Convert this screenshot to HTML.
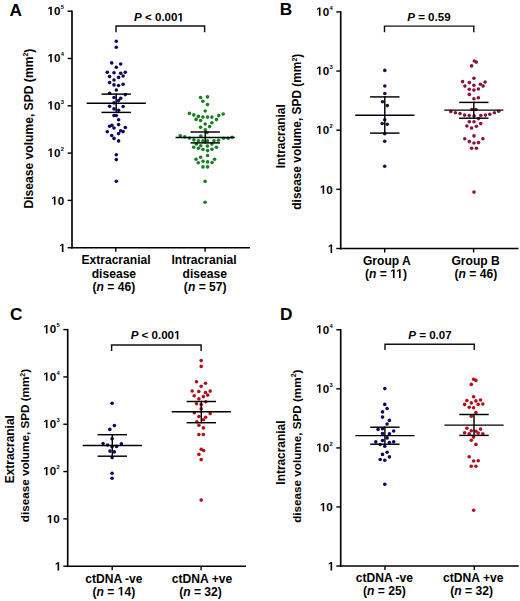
<!DOCTYPE html>
<html><head><meta charset="utf-8"><style>
html,body{margin:0;padding:0;background:#fff;}
svg{display:block;font-family:"Liberation Sans", sans-serif;}
.one{fill:transparent;}
</style></head><body>
<svg width="520" height="601" viewBox="0 0 520 601">
<rect width="520" height="601" fill="#fff"/>
<text x="9.50" y="15.60" font-size="17.3" text-anchor="start" font-weight="bold" >A</text>
<line x1="72.00" y1="10.50" x2="72.00" y2="248.60" stroke="#000" stroke-width="1.65"/>
<line x1="71.10" y1="247.70" x2="250.00" y2="247.70" stroke="#000" stroke-width="1.65"/>
<line x1="67.60" y1="247.70" x2="72.00" y2="247.70" stroke="#000" stroke-width="1.4"/>
<text x="65.60" y="252.10" font-size="11.6" text-anchor="end" font-weight="bold" ><tspan class="one">1</tspan></text>
<line x1="67.60" y1="200.40" x2="72.00" y2="200.40" stroke="#000" stroke-width="1.4"/>
<text x="64.10" y="204.80" font-size="11.6" text-anchor="end" font-weight="bold" ><tspan class="one">1</tspan>0</text>
<line x1="67.60" y1="153.10" x2="72.00" y2="153.10" stroke="#000" stroke-width="1.4"/>
<text x="60.40" y="156.90" font-size="11.6" text-anchor="end" font-weight="bold" ><tspan class="one">1</tspan>0</text>
<text x="60.80" y="150.90" font-size="5.8" text-anchor="start" font-weight="bold" >2</text>
<line x1="67.60" y1="105.80" x2="72.00" y2="105.80" stroke="#000" stroke-width="1.4"/>
<text x="60.40" y="109.60" font-size="11.6" text-anchor="end" font-weight="bold" ><tspan class="one">1</tspan>0</text>
<text x="60.80" y="103.60" font-size="5.8" text-anchor="start" font-weight="bold" >3</text>
<line x1="67.60" y1="58.50" x2="72.00" y2="58.50" stroke="#000" stroke-width="1.4"/>
<text x="60.40" y="62.30" font-size="11.6" text-anchor="end" font-weight="bold" ><tspan class="one">1</tspan>0</text>
<text x="60.80" y="56.30" font-size="5.8" text-anchor="start" font-weight="bold" >4</text>
<line x1="67.60" y1="11.20" x2="72.00" y2="11.20" stroke="#000" stroke-width="1.4"/>
<text x="60.40" y="15.00" font-size="11.6" text-anchor="end" font-weight="bold" ><tspan class="one">1</tspan>0</text>
<text x="60.80" y="9.00" font-size="5.8" text-anchor="start" font-weight="bold" >5</text>
<line x1="115.80" y1="247.70" x2="115.80" y2="251.70" stroke="#000" stroke-width="1.4"/>
<line x1="205.10" y1="247.70" x2="205.10" y2="251.70" stroke="#000" stroke-width="1.4"/>
<polyline points="116.00,32.30 116.00,26.00 204.60,26.00 204.60,32.30" fill="none" stroke="#111" stroke-width="1.45"/>
<text x="159.00" y="21.40" font-size="11.55" text-anchor="middle" font-weight="bold" ><tspan font-style="italic">P</tspan> &lt; 0.00<tspan class="one">1</tspan></text>
<text x="116.00" y="263.90" font-size="12.1" text-anchor="middle" font-weight="bold" >Extracranial</text>
<text x="113.90" y="278.00" font-size="12.1" text-anchor="middle" font-weight="bold" >disease</text>
<text x="113.90" y="291.30" font-size="12.1" text-anchor="middle" font-weight="bold" >(<tspan font-style="italic">n</tspan> = 46)</text>
<text x="204.00" y="263.90" font-size="12.1" text-anchor="middle" font-weight="bold" >Intracranial</text>
<text x="204.80" y="278.00" font-size="12.1" text-anchor="middle" font-weight="bold" >disease</text>
<text x="205.20" y="291.30" font-size="12.1" text-anchor="middle" font-weight="bold" >(<tspan font-style="italic">n</tspan> = 57)</text>
<text x="0.00" y="0.00" font-size="12.1" text-anchor="middle" font-weight="bold" transform="translate(32.80,128.60) rotate(-90)">Disease volume, SPD (mm<tspan font-size="7" dy="-4.6">2</tspan><tspan dy="4.6">)</tspan></text>
<text x="279.80" y="15.40" font-size="17.3" text-anchor="start" font-weight="bold" >B</text>
<line x1="340.70" y1="11.20" x2="340.70" y2="249.40" stroke="#000" stroke-width="1.65"/>
<line x1="339.80" y1="248.50" x2="518.50" y2="248.50" stroke="#000" stroke-width="1.65"/>
<line x1="336.30" y1="248.50" x2="340.70" y2="248.50" stroke="#000" stroke-width="1.4"/>
<text x="334.30" y="252.90" font-size="11.6" text-anchor="end" font-weight="bold" ><tspan class="one">1</tspan></text>
<line x1="336.30" y1="189.35" x2="340.70" y2="189.35" stroke="#000" stroke-width="1.4"/>
<text x="332.80" y="193.75" font-size="11.6" text-anchor="end" font-weight="bold" ><tspan class="one">1</tspan>0</text>
<line x1="336.30" y1="130.20" x2="340.70" y2="130.20" stroke="#000" stroke-width="1.4"/>
<text x="329.10" y="134.00" font-size="11.6" text-anchor="end" font-weight="bold" ><tspan class="one">1</tspan>0</text>
<text x="329.50" y="128.00" font-size="5.8" text-anchor="start" font-weight="bold" >2</text>
<line x1="336.30" y1="71.05" x2="340.70" y2="71.05" stroke="#000" stroke-width="1.4"/>
<text x="329.10" y="74.85" font-size="11.6" text-anchor="end" font-weight="bold" ><tspan class="one">1</tspan>0</text>
<text x="329.50" y="68.85" font-size="5.8" text-anchor="start" font-weight="bold" >3</text>
<line x1="336.30" y1="11.90" x2="340.70" y2="11.90" stroke="#000" stroke-width="1.4"/>
<text x="329.10" y="15.70" font-size="11.6" text-anchor="end" font-weight="bold" ><tspan class="one">1</tspan>0</text>
<text x="329.50" y="9.70" font-size="5.8" text-anchor="start" font-weight="bold" >4</text>
<line x1="384.70" y1="248.50" x2="384.70" y2="252.50" stroke="#000" stroke-width="1.4"/>
<line x1="473.60" y1="248.50" x2="473.60" y2="252.50" stroke="#000" stroke-width="1.4"/>
<polyline points="384.50,32.30 384.50,26.10 473.80,26.10 473.80,32.30" fill="none" stroke="#111" stroke-width="1.45"/>
<text x="428.90" y="20.50" font-size="11.55" text-anchor="middle" font-weight="bold" ><tspan font-style="italic">P</tspan> = 0.59</text>
<text x="386.90" y="265.00" font-size="12.1" text-anchor="middle" font-weight="bold" >Group A</text>
<text x="385.90" y="277.90" font-size="12.1" text-anchor="middle" font-weight="bold" >(<tspan font-style="italic">n</tspan> = <tspan class="one">1</tspan><tspan class="one">1</tspan>)</text>
<text x="475.60" y="265.00" font-size="12.1" text-anchor="middle" font-weight="bold" >Group B</text>
<text x="475.90" y="277.90" font-size="12.1" text-anchor="middle" font-weight="bold" >(<tspan font-style="italic">n</tspan> = 46)</text>
<text x="0.00" y="0.00" font-size="11.9" text-anchor="middle" font-weight="bold" transform="translate(284.50,136.30) rotate(-90)">Intracranial</text>
<text x="0.00" y="0.00" font-size="11.9" text-anchor="middle" font-weight="bold" transform="translate(301.30,131.70) rotate(-90)">disease volume, SPD (mm<tspan font-size="7" dy="-4.6">2</tspan><tspan dy="4.6">)</tspan></text>
<text x="9.90" y="320.10" font-size="17.3" text-anchor="start" font-weight="bold" >C</text>
<line x1="67.70" y1="328.90" x2="67.70" y2="567.10" stroke="#000" stroke-width="1.65"/>
<line x1="66.80" y1="566.20" x2="246.00" y2="566.20" stroke="#000" stroke-width="1.65"/>
<line x1="63.30" y1="566.20" x2="67.70" y2="566.20" stroke="#000" stroke-width="1.4"/>
<text x="61.30" y="570.60" font-size="11.6" text-anchor="end" font-weight="bold" ><tspan class="one">1</tspan></text>
<line x1="63.30" y1="518.88" x2="67.70" y2="518.88" stroke="#000" stroke-width="1.4"/>
<text x="59.80" y="523.28" font-size="11.6" text-anchor="end" font-weight="bold" ><tspan class="one">1</tspan>0</text>
<line x1="63.30" y1="471.56" x2="67.70" y2="471.56" stroke="#000" stroke-width="1.4"/>
<text x="56.10" y="475.36" font-size="11.6" text-anchor="end" font-weight="bold" ><tspan class="one">1</tspan>0</text>
<text x="56.50" y="469.36" font-size="5.8" text-anchor="start" font-weight="bold" >2</text>
<line x1="63.30" y1="424.24" x2="67.70" y2="424.24" stroke="#000" stroke-width="1.4"/>
<text x="56.10" y="428.04" font-size="11.6" text-anchor="end" font-weight="bold" ><tspan class="one">1</tspan>0</text>
<text x="56.50" y="422.04" font-size="5.8" text-anchor="start" font-weight="bold" >3</text>
<line x1="63.30" y1="376.92" x2="67.70" y2="376.92" stroke="#000" stroke-width="1.4"/>
<text x="56.10" y="380.72" font-size="11.6" text-anchor="end" font-weight="bold" ><tspan class="one">1</tspan>0</text>
<text x="56.50" y="374.72" font-size="5.8" text-anchor="start" font-weight="bold" >4</text>
<line x1="63.30" y1="329.60" x2="67.70" y2="329.60" stroke="#000" stroke-width="1.4"/>
<text x="56.10" y="333.40" font-size="11.6" text-anchor="end" font-weight="bold" ><tspan class="one">1</tspan>0</text>
<text x="56.50" y="327.40" font-size="5.8" text-anchor="start" font-weight="bold" >5</text>
<line x1="112.20" y1="566.20" x2="112.20" y2="570.20" stroke="#000" stroke-width="1.4"/>
<line x1="201.10" y1="566.20" x2="201.10" y2="570.20" stroke="#000" stroke-width="1.4"/>
<polyline points="111.60,351.00 111.60,345.00 201.10,345.00 201.10,351.00" fill="none" stroke="#111" stroke-width="1.45"/>
<text x="155.60" y="339.20" font-size="11.55" text-anchor="middle" font-weight="bold" ><tspan font-style="italic">P</tspan> &lt; 0.00<tspan class="one">1</tspan></text>
<text x="113.90" y="582.80" font-size="12.1" text-anchor="middle" font-weight="bold" >ctDNA -ve</text>
<text x="113.90" y="595.60" font-size="12.1" text-anchor="middle" font-weight="bold" >(<tspan font-style="italic">n</tspan> = <tspan class="one">1</tspan>4)</text>
<text x="202.00" y="582.80" font-size="12.1" text-anchor="middle" font-weight="bold" >ctDNA +ve</text>
<text x="200.50" y="595.60" font-size="12.1" text-anchor="middle" font-weight="bold" >(<tspan font-style="italic">n</tspan> = 32)</text>
<text x="0.00" y="0.00" font-size="11.9" text-anchor="middle" font-weight="bold" transform="translate(13.70,449.20) rotate(-90)">Extracranial</text>
<text x="0.00" y="0.00" font-size="11.7" text-anchor="middle" font-weight="bold" transform="translate(29.10,445.50) rotate(-90)">disease volume, SPD (mm<tspan font-size="7" dy="-4.6">2</tspan><tspan dy="4.6">)</tspan></text>
<text x="280.00" y="319.80" font-size="17.3" text-anchor="start" font-weight="bold" >D</text>
<line x1="340.70" y1="329.10" x2="340.70" y2="566.90" stroke="#000" stroke-width="1.65"/>
<line x1="339.80" y1="566.00" x2="518.80" y2="566.00" stroke="#000" stroke-width="1.65"/>
<line x1="336.30" y1="566.00" x2="340.70" y2="566.00" stroke="#000" stroke-width="1.4"/>
<text x="334.30" y="570.40" font-size="11.6" text-anchor="end" font-weight="bold" ><tspan class="one">1</tspan></text>
<line x1="336.30" y1="506.95" x2="340.70" y2="506.95" stroke="#000" stroke-width="1.4"/>
<text x="332.80" y="511.35" font-size="11.6" text-anchor="end" font-weight="bold" ><tspan class="one">1</tspan>0</text>
<line x1="336.30" y1="447.90" x2="340.70" y2="447.90" stroke="#000" stroke-width="1.4"/>
<text x="329.10" y="451.70" font-size="11.6" text-anchor="end" font-weight="bold" ><tspan class="one">1</tspan>0</text>
<text x="329.50" y="445.70" font-size="5.8" text-anchor="start" font-weight="bold" >2</text>
<line x1="336.30" y1="388.85" x2="340.70" y2="388.85" stroke="#000" stroke-width="1.4"/>
<text x="329.10" y="392.65" font-size="11.6" text-anchor="end" font-weight="bold" ><tspan class="one">1</tspan>0</text>
<text x="329.50" y="386.65" font-size="5.8" text-anchor="start" font-weight="bold" >3</text>
<line x1="336.30" y1="329.80" x2="340.70" y2="329.80" stroke="#000" stroke-width="1.4"/>
<text x="329.10" y="333.60" font-size="11.6" text-anchor="end" font-weight="bold" ><tspan class="one">1</tspan>0</text>
<text x="329.50" y="327.60" font-size="5.8" text-anchor="start" font-weight="bold" >4</text>
<line x1="385.00" y1="566.00" x2="385.00" y2="570.00" stroke="#000" stroke-width="1.4"/>
<line x1="474.30" y1="566.00" x2="474.30" y2="570.00" stroke="#000" stroke-width="1.4"/>
<polyline points="385.00,350.10 385.00,344.30 474.30,344.30 474.30,350.10" fill="none" stroke="#111" stroke-width="1.45"/>
<text x="430.00" y="339.20" font-size="11.55" text-anchor="middle" font-weight="bold" ><tspan font-style="italic">P</tspan> = 0.07</text>
<text x="384.40" y="582.30" font-size="12.1" text-anchor="middle" font-weight="bold" >ctDNA -ve</text>
<text x="384.40" y="595.30" font-size="12.1" text-anchor="middle" font-weight="bold" >(<tspan font-style="italic">n</tspan> = 25)</text>
<text x="473.30" y="582.20" font-size="12.1" text-anchor="middle" font-weight="bold" >ctDNA +ve</text>
<text x="471.60" y="595.30" font-size="12.1" text-anchor="middle" font-weight="bold" >(<tspan font-style="italic">n</tspan> = 32)</text>
<text x="0.00" y="0.00" font-size="11.9" text-anchor="middle" font-weight="bold" transform="translate(284.60,452.60) rotate(-90)">Intracranial</text>
<text x="0.00" y="0.00" font-size="11.7" text-anchor="middle" font-weight="bold" transform="translate(300.90,446.20) rotate(-90)">disease volume, SPD (mm<tspan font-size="7" dy="-4.6">2</tspan><tspan dy="4.6">)</tspan></text>
<circle cx="116.30" cy="41.30" r="1.8" fill="#0c0866"/>
<circle cx="116.30" cy="47.30" r="1.8" fill="#0c0866"/>
<circle cx="111.70" cy="62.90" r="1.8" fill="#0c0866"/>
<circle cx="120.70" cy="64.00" r="1.8" fill="#0c0866"/>
<circle cx="116.30" cy="67.30" r="1.8" fill="#0c0866"/>
<circle cx="107.30" cy="72.30" r="1.8" fill="#0c0866"/>
<circle cx="114.00" cy="72.80" r="1.8" fill="#0c0866"/>
<circle cx="120.70" cy="73.30" r="1.8" fill="#0c0866"/>
<circle cx="125.30" cy="72.30" r="1.8" fill="#0c0866"/>
<circle cx="109.60" cy="76.60" r="1.8" fill="#0c0866"/>
<circle cx="118.60" cy="77.40" r="1.8" fill="#0c0866"/>
<circle cx="123.10" cy="76.00" r="1.8" fill="#0c0866"/>
<circle cx="114.00" cy="80.00" r="1.8" fill="#0c0866"/>
<circle cx="109.60" cy="82.60" r="1.8" fill="#0c0866"/>
<circle cx="114.00" cy="84.90" r="1.8" fill="#0c0866"/>
<circle cx="118.60" cy="85.50" r="1.8" fill="#0c0866"/>
<circle cx="123.10" cy="84.30" r="1.8" fill="#0c0866"/>
<circle cx="116.30" cy="90.00" r="1.8" fill="#0c0866"/>
<circle cx="109.60" cy="93.30" r="1.8" fill="#0c0866"/>
<circle cx="125.30" cy="94.60" r="1.8" fill="#0c0866"/>
<circle cx="114.00" cy="97.50" r="1.8" fill="#0c0866"/>
<circle cx="120.70" cy="98.30" r="1.8" fill="#0c0866"/>
<circle cx="118.60" cy="100.60" r="1.8" fill="#0c0866"/>
<circle cx="114.00" cy="102.90" r="1.8" fill="#0c0866"/>
<circle cx="109.60" cy="106.20" r="1.8" fill="#0c0866"/>
<circle cx="123.10" cy="106.50" r="1.8" fill="#0c0866"/>
<circle cx="114.00" cy="108.90" r="1.8" fill="#0c0866"/>
<circle cx="118.60" cy="110.20" r="1.8" fill="#0c0866"/>
<circle cx="114.00" cy="115.50" r="1.8" fill="#0c0866"/>
<circle cx="116.30" cy="115.50" r="1.8" fill="#0c0866"/>
<circle cx="118.60" cy="119.80" r="1.8" fill="#0c0866"/>
<circle cx="118.60" cy="124.60" r="1.8" fill="#0c0866"/>
<circle cx="109.60" cy="126.20" r="1.8" fill="#0c0866"/>
<circle cx="111.90" cy="125.40" r="1.8" fill="#0c0866"/>
<circle cx="114.00" cy="128.00" r="1.8" fill="#0c0866"/>
<circle cx="125.30" cy="127.50" r="1.8" fill="#0c0866"/>
<circle cx="107.30" cy="131.80" r="1.8" fill="#0c0866"/>
<circle cx="120.70" cy="130.70" r="1.8" fill="#0c0866"/>
<circle cx="123.10" cy="131.60" r="1.8" fill="#0c0866"/>
<circle cx="118.60" cy="133.60" r="1.8" fill="#0c0866"/>
<circle cx="111.70" cy="135.50" r="1.8" fill="#0c0866"/>
<circle cx="114.00" cy="138.40" r="1.8" fill="#0c0866"/>
<circle cx="118.60" cy="140.90" r="1.8" fill="#0c0866"/>
<circle cx="116.30" cy="154.80" r="1.8" fill="#0c0866"/>
<circle cx="116.30" cy="159.60" r="1.8" fill="#0c0866"/>
<circle cx="116.30" cy="181.20" r="1.8" fill="#0c0866"/>
<circle cx="200.60" cy="97.50" r="1.8" fill="#17801f"/>
<circle cx="207.50" cy="96.90" r="1.8" fill="#17801f"/>
<circle cx="202.90" cy="101.20" r="1.8" fill="#17801f"/>
<circle cx="207.50" cy="104.60" r="1.8" fill="#17801f"/>
<circle cx="205.20" cy="111.00" r="1.8" fill="#17801f"/>
<circle cx="189.40" cy="113.40" r="1.8" fill="#17801f"/>
<circle cx="193.80" cy="114.90" r="1.8" fill="#17801f"/>
<circle cx="198.40" cy="116.40" r="1.8" fill="#17801f"/>
<circle cx="202.90" cy="117.10" r="1.8" fill="#17801f"/>
<circle cx="207.50" cy="117.10" r="1.8" fill="#17801f"/>
<circle cx="211.90" cy="117.10" r="1.8" fill="#17801f"/>
<circle cx="218.80" cy="115.60" r="1.8" fill="#17801f"/>
<circle cx="223.20" cy="114.00" r="1.8" fill="#17801f"/>
<circle cx="196.10" cy="119.40" r="1.8" fill="#17801f"/>
<circle cx="200.60" cy="120.50" r="1.8" fill="#17801f"/>
<circle cx="216.50" cy="119.60" r="1.8" fill="#17801f"/>
<circle cx="205.20" cy="124.00" r="1.8" fill="#17801f"/>
<circle cx="211.90" cy="122.80" r="1.8" fill="#17801f"/>
<circle cx="200.60" cy="127.30" r="1.8" fill="#17801f"/>
<circle cx="209.60" cy="126.60" r="1.8" fill="#17801f"/>
<circle cx="205.30" cy="129.70" r="1.8" fill="#17801f"/>
<circle cx="207.00" cy="132.60" r="1.8" fill="#17801f"/>
<circle cx="180.20" cy="135.80" r="1.8" fill="#17801f"/>
<circle cx="184.80" cy="136.90" r="1.8" fill="#17801f"/>
<circle cx="189.40" cy="138.10" r="1.8" fill="#17801f"/>
<circle cx="200.80" cy="136.00" r="1.8" fill="#17801f"/>
<circle cx="223.50" cy="138.30" r="1.8" fill="#17801f"/>
<circle cx="228.10" cy="138.30" r="1.8" fill="#17801f"/>
<circle cx="232.10" cy="137.20" r="1.8" fill="#17801f"/>
<circle cx="193.90" cy="139.90" r="1.8" fill="#17801f"/>
<circle cx="198.40" cy="140.70" r="1.8" fill="#17801f"/>
<circle cx="202.90" cy="140.90" r="1.8" fill="#17801f"/>
<circle cx="207.40" cy="140.90" r="1.8" fill="#17801f"/>
<circle cx="214.00" cy="140.70" r="1.8" fill="#17801f"/>
<circle cx="218.50" cy="140.20" r="1.8" fill="#17801f"/>
<circle cx="196.30" cy="144.00" r="1.8" fill="#17801f"/>
<circle cx="200.80" cy="145.70" r="1.8" fill="#17801f"/>
<circle cx="207.40" cy="146.10" r="1.8" fill="#17801f"/>
<circle cx="211.90" cy="143.90" r="1.8" fill="#17801f"/>
<circle cx="193.70" cy="147.20" r="1.8" fill="#17801f"/>
<circle cx="198.40" cy="148.20" r="1.8" fill="#17801f"/>
<circle cx="216.40" cy="147.20" r="1.8" fill="#17801f"/>
<circle cx="202.90" cy="149.50" r="1.8" fill="#17801f"/>
<circle cx="212.00" cy="149.20" r="1.8" fill="#17801f"/>
<circle cx="207.60" cy="150.60" r="1.8" fill="#17801f"/>
<circle cx="207.60" cy="155.50" r="1.8" fill="#17801f"/>
<circle cx="200.60" cy="157.20" r="1.8" fill="#17801f"/>
<circle cx="196.00" cy="159.30" r="1.8" fill="#17801f"/>
<circle cx="214.60" cy="159.30" r="1.8" fill="#17801f"/>
<circle cx="203.00" cy="161.30" r="1.8" fill="#17801f"/>
<circle cx="207.60" cy="161.90" r="1.8" fill="#17801f"/>
<circle cx="198.30" cy="162.70" r="1.8" fill="#17801f"/>
<circle cx="212.10" cy="162.50" r="1.8" fill="#17801f"/>
<circle cx="203.00" cy="166.90" r="1.8" fill="#17801f"/>
<circle cx="207.60" cy="166.90" r="1.8" fill="#17801f"/>
<circle cx="205.10" cy="181.40" r="1.8" fill="#17801f"/>
<circle cx="205.10" cy="202.20" r="1.8" fill="#17801f"/>
<circle cx="384.80" cy="70.40" r="1.8" fill="#2e0a45"/>
<circle cx="384.80" cy="86.00" r="1.8" fill="#2e0a45"/>
<circle cx="384.80" cy="93.50" r="1.8" fill="#2e0a45"/>
<circle cx="382.50" cy="101.80" r="1.8" fill="#2e0a45"/>
<circle cx="387.30" cy="105.60" r="1.8" fill="#2e0a45"/>
<circle cx="384.70" cy="119.70" r="1.8" fill="#2e0a45"/>
<circle cx="382.20" cy="123.50" r="1.8" fill="#2e0a45"/>
<circle cx="387.30" cy="124.30" r="1.8" fill="#2e0a45"/>
<circle cx="384.70" cy="133.80" r="1.8" fill="#2e0a45"/>
<circle cx="384.70" cy="141.20" r="1.8" fill="#2e0a45"/>
<circle cx="384.70" cy="166.20" r="1.8" fill="#2e0a45"/>
<circle cx="474.30" cy="61.00" r="1.8" fill="#8a1240"/>
<circle cx="476.30" cy="62.10" r="1.8" fill="#8a1240"/>
<circle cx="471.60" cy="65.90" r="1.8" fill="#8a1240"/>
<circle cx="473.90" cy="78.30" r="1.8" fill="#8a1240"/>
<circle cx="462.60" cy="81.60" r="1.8" fill="#8a1240"/>
<circle cx="469.30" cy="82.60" r="1.8" fill="#8a1240"/>
<circle cx="485.10" cy="82.00" r="1.8" fill="#8a1240"/>
<circle cx="480.40" cy="84.30" r="1.8" fill="#8a1240"/>
<circle cx="464.90" cy="86.10" r="1.8" fill="#8a1240"/>
<circle cx="473.90" cy="85.30" r="1.8" fill="#8a1240"/>
<circle cx="483.10" cy="86.10" r="1.8" fill="#8a1240"/>
<circle cx="469.30" cy="89.30" r="1.8" fill="#8a1240"/>
<circle cx="473.90" cy="90.10" r="1.8" fill="#8a1240"/>
<circle cx="478.40" cy="89.00" r="1.8" fill="#8a1240"/>
<circle cx="469.30" cy="94.40" r="1.8" fill="#8a1240"/>
<circle cx="473.90" cy="98.70" r="1.8" fill="#8a1240"/>
<circle cx="478.40" cy="97.80" r="1.8" fill="#8a1240"/>
<circle cx="450.80" cy="111.60" r="1.8" fill="#8a1240"/>
<circle cx="455.40" cy="112.80" r="1.8" fill="#8a1240"/>
<circle cx="460.00" cy="113.60" r="1.8" fill="#8a1240"/>
<circle cx="464.60" cy="115.10" r="1.8" fill="#8a1240"/>
<circle cx="469.20" cy="115.50" r="1.8" fill="#8a1240"/>
<circle cx="471.80" cy="109.50" r="1.8" fill="#8a1240"/>
<circle cx="474.10" cy="115.90" r="1.8" fill="#8a1240"/>
<circle cx="475.90" cy="109.50" r="1.8" fill="#8a1240"/>
<circle cx="480.80" cy="115.50" r="1.8" fill="#8a1240"/>
<circle cx="485.40" cy="115.10" r="1.8" fill="#8a1240"/>
<circle cx="489.80" cy="114.20" r="1.8" fill="#8a1240"/>
<circle cx="494.40" cy="112.80" r="1.8" fill="#8a1240"/>
<circle cx="498.70" cy="111.30" r="1.8" fill="#8a1240"/>
<circle cx="478.50" cy="118.60" r="1.8" fill="#8a1240"/>
<circle cx="469.30" cy="121.70" r="1.8" fill="#8a1240"/>
<circle cx="474.00" cy="121.70" r="1.8" fill="#8a1240"/>
<circle cx="480.70" cy="123.60" r="1.8" fill="#8a1240"/>
<circle cx="466.90" cy="126.00" r="1.8" fill="#8a1240"/>
<circle cx="471.60" cy="128.00" r="1.8" fill="#8a1240"/>
<circle cx="476.40" cy="126.30" r="1.8" fill="#8a1240"/>
<circle cx="474.00" cy="135.90" r="1.8" fill="#8a1240"/>
<circle cx="464.80" cy="138.80" r="1.8" fill="#8a1240"/>
<circle cx="482.90" cy="138.80" r="1.8" fill="#8a1240"/>
<circle cx="469.30" cy="141.60" r="1.8" fill="#8a1240"/>
<circle cx="474.00" cy="143.00" r="1.8" fill="#8a1240"/>
<circle cx="478.50" cy="142.60" r="1.8" fill="#8a1240"/>
<circle cx="471.60" cy="148.30" r="1.8" fill="#8a1240"/>
<circle cx="476.40" cy="148.30" r="1.8" fill="#8a1240"/>
<circle cx="474.00" cy="192.10" r="1.8" fill="#8a1240"/>
<circle cx="112.10" cy="403.30" r="1.8" fill="#0c0866"/>
<circle cx="114.40" cy="425.60" r="1.8" fill="#0c0866"/>
<circle cx="109.80" cy="429.40" r="1.8" fill="#0c0866"/>
<circle cx="112.10" cy="438.70" r="1.8" fill="#0c0866"/>
<circle cx="103.10" cy="443.50" r="1.8" fill="#0c0866"/>
<circle cx="107.60" cy="445.10" r="1.8" fill="#0c0866"/>
<circle cx="112.10" cy="446.80" r="1.8" fill="#0c0866"/>
<circle cx="116.60" cy="446.40" r="1.8" fill="#0c0866"/>
<circle cx="121.40" cy="443.80" r="1.8" fill="#0c0866"/>
<circle cx="110.00" cy="451.10" r="1.8" fill="#0c0866"/>
<circle cx="114.30" cy="451.90" r="1.8" fill="#0c0866"/>
<circle cx="112.10" cy="457.60" r="1.8" fill="#0c0866"/>
<circle cx="112.10" cy="473.30" r="1.8" fill="#0c0866"/>
<circle cx="112.10" cy="478.20" r="1.8" fill="#0c0866"/>
<circle cx="201.20" cy="360.60" r="1.8" fill="#b50d1a"/>
<circle cx="201.20" cy="366.40" r="1.8" fill="#b50d1a"/>
<circle cx="196.50" cy="381.70" r="1.8" fill="#b50d1a"/>
<circle cx="205.50" cy="383.20" r="1.8" fill="#b50d1a"/>
<circle cx="201.20" cy="386.30" r="1.8" fill="#b50d1a"/>
<circle cx="192.20" cy="391.00" r="1.8" fill="#b50d1a"/>
<circle cx="198.80" cy="391.50" r="1.8" fill="#b50d1a"/>
<circle cx="205.50" cy="392.50" r="1.8" fill="#b50d1a"/>
<circle cx="210.20" cy="391.10" r="1.8" fill="#b50d1a"/>
<circle cx="194.20" cy="395.80" r="1.8" fill="#b50d1a"/>
<circle cx="207.70" cy="395.10" r="1.8" fill="#b50d1a"/>
<circle cx="203.40" cy="396.60" r="1.8" fill="#b50d1a"/>
<circle cx="198.90" cy="398.90" r="1.8" fill="#b50d1a"/>
<circle cx="196.50" cy="403.80" r="1.8" fill="#b50d1a"/>
<circle cx="201.20" cy="404.60" r="1.8" fill="#b50d1a"/>
<circle cx="205.80" cy="401.70" r="1.8" fill="#b50d1a"/>
<circle cx="201.20" cy="408.90" r="1.8" fill="#b50d1a"/>
<circle cx="194.30" cy="412.70" r="1.8" fill="#b50d1a"/>
<circle cx="210.20" cy="413.60" r="1.8" fill="#b50d1a"/>
<circle cx="198.90" cy="416.50" r="1.8" fill="#b50d1a"/>
<circle cx="205.60" cy="417.20" r="1.8" fill="#b50d1a"/>
<circle cx="203.40" cy="419.70" r="1.8" fill="#b50d1a"/>
<circle cx="196.80" cy="421.80" r="1.8" fill="#b50d1a"/>
<circle cx="198.90" cy="425.20" r="1.8" fill="#b50d1a"/>
<circle cx="203.40" cy="427.90" r="1.8" fill="#b50d1a"/>
<circle cx="198.90" cy="434.60" r="1.8" fill="#b50d1a"/>
<circle cx="203.40" cy="434.50" r="1.8" fill="#b50d1a"/>
<circle cx="201.20" cy="449.30" r="1.8" fill="#b50d1a"/>
<circle cx="203.60" cy="450.50" r="1.8" fill="#b50d1a"/>
<circle cx="198.90" cy="454.40" r="1.8" fill="#b50d1a"/>
<circle cx="201.20" cy="459.60" r="1.8" fill="#b50d1a"/>
<circle cx="201.20" cy="500.10" r="1.8" fill="#b50d1a"/>
<circle cx="384.80" cy="388.60" r="1.8" fill="#0c0866"/>
<circle cx="384.80" cy="404.40" r="1.8" fill="#0c0866"/>
<circle cx="387.10" cy="408.50" r="1.8" fill="#0c0866"/>
<circle cx="382.50" cy="411.90" r="1.8" fill="#0c0866"/>
<circle cx="382.50" cy="417.10" r="1.8" fill="#0c0866"/>
<circle cx="389.40" cy="420.40" r="1.8" fill="#0c0866"/>
<circle cx="387.10" cy="424.00" r="1.8" fill="#0c0866"/>
<circle cx="378.10" cy="429.40" r="1.8" fill="#0c0866"/>
<circle cx="382.50" cy="428.80" r="1.8" fill="#0c0866"/>
<circle cx="393.70" cy="431.00" r="1.8" fill="#0c0866"/>
<circle cx="382.50" cy="433.50" r="1.8" fill="#0c0866"/>
<circle cx="389.40" cy="433.70" r="1.8" fill="#0c0866"/>
<circle cx="387.10" cy="437.90" r="1.8" fill="#0c0866"/>
<circle cx="382.50" cy="440.50" r="1.8" fill="#0c0866"/>
<circle cx="375.80" cy="441.90" r="1.8" fill="#0c0866"/>
<circle cx="389.40" cy="442.50" r="1.8" fill="#0c0866"/>
<circle cx="393.70" cy="441.70" r="1.8" fill="#0c0866"/>
<circle cx="380.20" cy="444.50" r="1.8" fill="#0c0866"/>
<circle cx="384.80" cy="446.30" r="1.8" fill="#0c0866"/>
<circle cx="387.10" cy="452.30" r="1.8" fill="#0c0866"/>
<circle cx="382.50" cy="454.40" r="1.8" fill="#0c0866"/>
<circle cx="389.40" cy="456.90" r="1.8" fill="#0c0866"/>
<circle cx="380.20" cy="459.50" r="1.8" fill="#0c0866"/>
<circle cx="384.80" cy="460.20" r="1.8" fill="#0c0866"/>
<circle cx="384.80" cy="484.20" r="1.8" fill="#0c0866"/>
<circle cx="473.60" cy="379.20" r="1.8" fill="#b50d1a"/>
<circle cx="475.90" cy="380.40" r="1.8" fill="#b50d1a"/>
<circle cx="471.30" cy="384.40" r="1.8" fill="#b50d1a"/>
<circle cx="473.60" cy="396.80" r="1.8" fill="#b50d1a"/>
<circle cx="466.90" cy="400.60" r="1.8" fill="#b50d1a"/>
<circle cx="475.90" cy="400.90" r="1.8" fill="#b50d1a"/>
<circle cx="480.50" cy="400.00" r="1.8" fill="#b50d1a"/>
<circle cx="464.60" cy="404.40" r="1.8" fill="#b50d1a"/>
<circle cx="471.30" cy="402.90" r="1.8" fill="#b50d1a"/>
<circle cx="478.20" cy="404.40" r="1.8" fill="#b50d1a"/>
<circle cx="482.80" cy="404.00" r="1.8" fill="#b50d1a"/>
<circle cx="469.20" cy="407.20" r="1.8" fill="#b50d1a"/>
<circle cx="473.60" cy="407.80" r="1.8" fill="#b50d1a"/>
<circle cx="475.90" cy="412.60" r="1.8" fill="#b50d1a"/>
<circle cx="471.30" cy="416.30" r="1.8" fill="#b50d1a"/>
<circle cx="466.90" cy="428.20" r="1.8" fill="#b50d1a"/>
<circle cx="480.50" cy="429.10" r="1.8" fill="#b50d1a"/>
<circle cx="471.30" cy="430.80" r="1.8" fill="#b50d1a"/>
<circle cx="475.90" cy="431.30" r="1.8" fill="#b50d1a"/>
<circle cx="464.60" cy="432.80" r="1.8" fill="#b50d1a"/>
<circle cx="469.20" cy="433.70" r="1.8" fill="#b50d1a"/>
<circle cx="478.20" cy="433.10" r="1.8" fill="#b50d1a"/>
<circle cx="482.80" cy="433.70" r="1.8" fill="#b50d1a"/>
<circle cx="473.60" cy="437.10" r="1.8" fill="#b50d1a"/>
<circle cx="471.30" cy="440.20" r="1.8" fill="#b50d1a"/>
<circle cx="475.90" cy="444.40" r="1.8" fill="#b50d1a"/>
<circle cx="469.20" cy="456.70" r="1.8" fill="#b50d1a"/>
<circle cx="473.60" cy="461.00" r="1.8" fill="#b50d1a"/>
<circle cx="478.20" cy="460.80" r="1.8" fill="#b50d1a"/>
<circle cx="471.30" cy="466.30" r="1.8" fill="#b50d1a"/>
<circle cx="475.90" cy="466.30" r="1.8" fill="#b50d1a"/>
<circle cx="473.60" cy="510.20" r="1.8" fill="#b50d1a"/>
<line x1="86.60" y1="103.30" x2="145.80" y2="103.30" stroke="#000" stroke-width="1.45"/>
<line x1="101.50" y1="94.10" x2="130.90" y2="94.10" stroke="#000" stroke-width="1.45"/>
<line x1="101.50" y1="112.40" x2="130.90" y2="112.40" stroke="#000" stroke-width="1.45"/>
<line x1="116.20" y1="93.40" x2="116.20" y2="113.10" stroke="#000" stroke-width="1.45"/>
<line x1="175.60" y1="137.40" x2="234.80" y2="137.40" stroke="#000" stroke-width="1.45"/>
<line x1="190.50" y1="132.00" x2="219.90" y2="132.00" stroke="#000" stroke-width="1.45"/>
<line x1="190.50" y1="142.90" x2="219.90" y2="142.90" stroke="#000" stroke-width="1.45"/>
<line x1="205.20" y1="131.30" x2="205.20" y2="143.60" stroke="#000" stroke-width="1.45"/>
<line x1="355.20" y1="115.20" x2="414.40" y2="115.20" stroke="#000" stroke-width="1.45"/>
<line x1="370.10" y1="96.90" x2="399.50" y2="96.90" stroke="#000" stroke-width="1.45"/>
<line x1="370.10" y1="133.10" x2="399.50" y2="133.10" stroke="#000" stroke-width="1.45"/>
<line x1="384.80" y1="96.20" x2="384.80" y2="133.80" stroke="#000" stroke-width="1.45"/>
<line x1="444.20" y1="110.10" x2="503.40" y2="110.10" stroke="#000" stroke-width="1.45"/>
<line x1="459.10" y1="102.40" x2="488.50" y2="102.40" stroke="#000" stroke-width="1.45"/>
<line x1="459.10" y1="118.20" x2="488.50" y2="118.20" stroke="#000" stroke-width="1.45"/>
<line x1="473.80" y1="101.70" x2="473.80" y2="118.90" stroke="#000" stroke-width="1.45"/>
<line x1="82.70" y1="445.50" x2="141.90" y2="445.50" stroke="#000" stroke-width="1.45"/>
<line x1="97.60" y1="434.70" x2="127.00" y2="434.70" stroke="#000" stroke-width="1.45"/>
<line x1="97.60" y1="456.20" x2="127.00" y2="456.20" stroke="#000" stroke-width="1.45"/>
<line x1="112.30" y1="434.00" x2="112.30" y2="456.90" stroke="#000" stroke-width="1.45"/>
<line x1="171.70" y1="411.80" x2="230.90" y2="411.80" stroke="#000" stroke-width="1.45"/>
<line x1="186.60" y1="401.50" x2="216.00" y2="401.50" stroke="#000" stroke-width="1.45"/>
<line x1="186.60" y1="422.70" x2="216.00" y2="422.70" stroke="#000" stroke-width="1.45"/>
<line x1="201.30" y1="400.80" x2="201.30" y2="423.40" stroke="#000" stroke-width="1.45"/>
<line x1="355.30" y1="435.60" x2="414.50" y2="435.60" stroke="#000" stroke-width="1.45"/>
<line x1="370.20" y1="427.20" x2="399.60" y2="427.20" stroke="#000" stroke-width="1.45"/>
<line x1="370.20" y1="444.20" x2="399.60" y2="444.20" stroke="#000" stroke-width="1.45"/>
<line x1="384.90" y1="426.50" x2="384.90" y2="444.90" stroke="#000" stroke-width="1.45"/>
<line x1="444.40" y1="425.10" x2="503.60" y2="425.10" stroke="#000" stroke-width="1.45"/>
<line x1="459.30" y1="414.50" x2="488.70" y2="414.50" stroke="#000" stroke-width="1.45"/>
<line x1="459.30" y1="435.40" x2="488.70" y2="435.40" stroke="#000" stroke-width="1.45"/>
<line x1="474.00" y1="413.80" x2="474.00" y2="436.10" stroke="#000" stroke-width="1.45"/>
<path d="M478 0L478 1200L140 990L140 1220L500 1466L759 1466L759 0Z" transform="translate(59.147,252.100) scale(0.005664,-0.005664)"/>
<path d="M478 0L478 1200L140 990L140 1220L500 1466L759 1466L759 0Z" transform="translate(51.194,204.800) scale(0.005664,-0.005664)"/>
<path d="M478 0L478 1200L140 990L140 1220L500 1466L759 1466L759 0Z" transform="translate(47.494,156.900) scale(0.005664,-0.005664)"/>
<path d="M478 0L478 1200L140 990L140 1220L500 1466L759 1466L759 0Z" transform="translate(47.494,109.600) scale(0.005664,-0.005664)"/>
<path d="M478 0L478 1200L140 990L140 1220L500 1466L759 1466L759 0Z" transform="translate(47.494,62.300) scale(0.005664,-0.005664)"/>
<path d="M478 0L478 1200L140 990L140 1220L500 1466L759 1466L759 0Z" transform="translate(47.494,15.000) scale(0.005664,-0.005664)"/>
<path d="M478 0L478 1200L140 990L140 1220L500 1466L759 1466L759 0Z" transform="translate(177.461,21.400) scale(0.005640,-0.005640)"/>
<path d="M478 0L478 1200L140 990L140 1220L500 1466L759 1466L759 0Z" transform="translate(327.847,252.900) scale(0.005664,-0.005664)"/>
<path d="M478 0L478 1200L140 990L140 1220L500 1466L759 1466L759 0Z" transform="translate(319.894,193.750) scale(0.005664,-0.005664)"/>
<path d="M478 0L478 1200L140 990L140 1220L500 1466L759 1466L759 0Z" transform="translate(316.194,134.000) scale(0.005664,-0.005664)"/>
<path d="M478 0L478 1200L140 990L140 1220L500 1466L759 1466L759 0Z" transform="translate(316.194,74.850) scale(0.005664,-0.005664)"/>
<path d="M478 0L478 1200L140 990L140 1220L500 1466L759 1466L759 0Z" transform="translate(316.194,15.700) scale(0.005664,-0.005664)"/>
<path d="M478 0L478 1200L140 990L140 1220L500 1466L759 1466L759 0Z" transform="translate(390.095,277.900) scale(0.005908,-0.005908)"/>
<path d="M478 0L478 1200L140 990L140 1220L500 1466L759 1466L759 0Z" transform="translate(396.158,277.900) scale(0.005908,-0.005908)"/>
<path d="M478 0L478 1200L140 990L140 1220L500 1466L759 1466L759 0Z" transform="translate(54.847,570.600) scale(0.005664,-0.005664)"/>
<path d="M478 0L478 1200L140 990L140 1220L500 1466L759 1466L759 0Z" transform="translate(46.894,523.280) scale(0.005664,-0.005664)"/>
<path d="M478 0L478 1200L140 990L140 1220L500 1466L759 1466L759 0Z" transform="translate(43.194,475.360) scale(0.005664,-0.005664)"/>
<path d="M478 0L478 1200L140 990L140 1220L500 1466L759 1466L759 0Z" transform="translate(43.194,428.040) scale(0.005664,-0.005664)"/>
<path d="M478 0L478 1200L140 990L140 1220L500 1466L759 1466L759 0Z" transform="translate(43.194,380.720) scale(0.005664,-0.005664)"/>
<path d="M478 0L478 1200L140 990L140 1220L500 1466L759 1466L759 0Z" transform="translate(43.194,333.400) scale(0.005664,-0.005664)"/>
<path d="M478 0L478 1200L140 990L140 1220L500 1466L759 1466L759 0Z" transform="translate(174.061,339.200) scale(0.005640,-0.005640)"/>
<path d="M478 0L478 1200L140 990L140 1220L500 1466L759 1466L759 0Z" transform="translate(117.759,595.600) scale(0.005908,-0.005908)"/>
<path d="M478 0L478 1200L140 990L140 1220L500 1466L759 1466L759 0Z" transform="translate(327.847,570.400) scale(0.005664,-0.005664)"/>
<path d="M478 0L478 1200L140 990L140 1220L500 1466L759 1466L759 0Z" transform="translate(319.894,511.350) scale(0.005664,-0.005664)"/>
<path d="M478 0L478 1200L140 990L140 1220L500 1466L759 1466L759 0Z" transform="translate(316.194,451.700) scale(0.005664,-0.005664)"/>
<path d="M478 0L478 1200L140 990L140 1220L500 1466L759 1466L759 0Z" transform="translate(316.194,392.650) scale(0.005664,-0.005664)"/>
<path d="M478 0L478 1200L140 990L140 1220L500 1466L759 1466L759 0Z" transform="translate(316.194,333.600) scale(0.005664,-0.005664)"/>
</svg>
</body></html>
